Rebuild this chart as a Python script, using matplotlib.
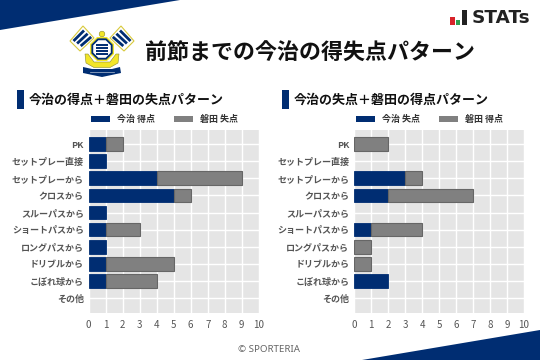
import matplotlib
matplotlib.use('Agg')
import numpy as np
import matplotlib.pyplot as plt
import matplotlib.patches as plp

plt.rcParams['font.family'] = ['Noto Sans CJK JP', 'DejaVu Sans']

NAVY = '#002d72'
GREY = '#808080'
TICK = '#555555'
YELLOW = '#f2e528'

categories = ['PK', 'セットプレー直接', 'セットプレーから', 'クロスから', 'スルーパスから',
              'ショートパスから', 'ロングパスから', 'ドリブルから', 'こぼれ球から', 'その他']
x_ticks = list(range(11))

left_imabari = [1, 1, 4, 5, 1, 1, 1, 1, 1, 0]
left_iwata = [1, 0, 5, 1, 0, 2, 0, 4, 3, 0]
right_imabari = [0, 0, 3, 2, 0, 1, 0, 0, 2, 0]
right_iwata = [2, 0, 1, 5, 0, 3, 1, 1, 0, 0]


def px_axes(fig, x0, y0, x1, y1):
	# pixel box (top-left origin) to figure fraction
	return fig.add_axes([x0 / 540, 1 - y1 / 360, (x1 - x0) / 540, (y1 - y0) / 360])


def draw_panel(fig, x0, a, b):
	ax = px_axes(fig, x0, 130, x0 + 170, 313)
	ax.set_facecolor('#e5e5e5')
	y = np.arange(len(categories))
	a = np.array(a)
	b = np.array(b)
	# zero values would leave an edge line, so only draw the real ones
	ax.barh(y[a > 0], a[a > 0], height=0.8, color=NAVY, edgecolor=NAVY, linewidth=0.6, zorder=3)
	ax.barh(y[b > 0], b[b > 0], left=a[b > 0], height=0.8, color=GREY, edgecolor='#666666', linewidth=0.8, zorder=3)
	ax.set_xlim(0, 10)
	ax.set_ylim(9.87, -0.82)
	ax.set_xticks(x_ticks)
	ax.set_yticks(y)
	ax.set_yticklabels(categories, fontsize=6.5, color=TICK, fontweight='bold')
	ax.tick_params(axis='x', length=0, labelsize=7, labelcolor=TICK, pad=5)
	ax.tick_params(axis='y', length=0, pad=3.5)
	ax.grid(color='white', linewidth=1, zorder=1)
	ax.set_axisbelow(True)
	for s in ax.spines.values():
		s.set_visible(False)
	return ax


def legend_item(ov, x, color, label):
	ov.add_patch(plp.Rectangle((x, 115.5), 19, 6, facecolor=color, edgecolor='none'))
	ov.text(x + 26, 119.5, label, fontsize=6.5, fontweight='bold', color='#333333', va='center', ha='left')


def draw_flag(ov, mirror):
	# flag drawn for the left side, mirrored around the crest centre
	fx = (lambda v: 204 - v) if mirror else (lambda v: v)
	ov.add_patch(plp.Polygon([(fx(70), 41), (fx(83), 26), (fx(94), 38), (fx(80), 51)],
	                         facecolor='white', edgecolor='#d8c93c', lw=0.8))
	for i in range(3):
		ov.plot([fx(73.5 + i * 3.6), fx(84 + i * 3.6)], [41 + i * 2.5, 30.5 + i * 3.2],
		        color=NAVY, lw=2.0, solid_capstyle='butt')


fig = plt.figure(figsize=(5.4, 3.6), dpi=100)

# overlay in pixel coordinates for the page decoration
ov = fig.add_axes([0, 0, 1, 1], zorder=5)
ov.set_xlim(0, 540)
ov.set_ylim(360, 0)
ov.axis('off')
ov.patch.set_alpha(0)

ov.add_patch(plp.Polygon([(0, 0), (180, 0), (0, 30)], facecolor=NAVY, edgecolor='none'))
ov.add_patch(plp.Polygon([(540, 330), (540, 360), (362, 360)], facecolor=NAVY, edgecolor='none'))

# crest
draw_flag(ov, False)
draw_flag(ov, True)
ov.add_patch(plp.Circle((102, 34), 2.8, facecolor=YELLOW, edgecolor='#8a8a30', lw=0.4))
ov.add_patch(plp.Polygon([(85, 54), (88, 54), (94, 62), (110, 62), (116, 54), (119, 54), (118, 63), (110, 67.5), (94, 67.5), (86, 63)],
                         facecolor=YELLOW, edgecolor='#8a8a30', lw=0.4))
ov.add_patch(plp.Polygon([(83, 67), (92, 69), (112, 69), (120, 67), (121, 73), (102, 77), (83, 73)],
                         facecolor=NAVY, edgecolor='none'))
ov.plot([90, 114], [72, 72], color='white', lw=0.5, alpha=0.7)
ov.add_patch(plp.RegularPolygon((102, 49), 8, radius=13, facecolor=YELLOW, edgecolor='none', orientation=np.pi / 8))
ov.add_patch(plp.RegularPolygon((102, 49), 8, radius=11.5, facecolor=NAVY, edgecolor='none', orientation=np.pi / 8))
ov.add_patch(plp.RegularPolygon((102, 49), 8, radius=9.5, facecolor='white', edgecolor='none', orientation=np.pi / 8))
for i in range(4):
	ov.plot([96, 108], [44.5 + i * 3, 44.5 + i * 3], color=NAVY, lw=1.4, solid_capstyle='butt')

# stats logo
ov.add_patch(plp.Rectangle((450, 17), 5, 8, facecolor='#d8232a', edgecolor='none'))
ov.add_patch(plp.Rectangle((456, 20), 4, 5, facecolor='#2e9e4f', edgecolor='none'))
ov.add_patch(plp.Rectangle((462, 10), 5, 15, facecolor='#222222', edgecolor='none'))
ov.text(472, 18, 'STATs', fontsize=13.2, fontweight='bold', color='#222222', family='DejaVu Sans', va='center', ha='left')

ov.text(145, 53, '前節までの今治の得失点パターン', fontsize=15.8, fontweight='bold', color='#111111', va='center', ha='left')

ov.add_patch(plp.Rectangle((17, 90), 7, 19, facecolor=NAVY, edgecolor='none'))
ov.text(29, 99.5, '今治の得点＋磐田の失点パターン', fontsize=9.35, fontweight='bold', color='#111111', va='center', ha='left')
ov.add_patch(plp.Rectangle((282, 90), 7, 19, facecolor=NAVY, edgecolor='none'))
ov.text(294, 99.5, '今治の失点＋磐田の得点パターン', fontsize=9.35, fontweight='bold', color='#111111', va='center', ha='left')

legend_item(ov, 91, NAVY, '今治 得点')
legend_item(ov, 174, GREY, '磐田 失点')
legend_item(ov, 356, NAVY, '今治 失点')
legend_item(ov, 439, GREY, '磐田 得点')

ov.text(269, 350, '© SPORTERIA', fontsize=7, color='#666666', va='center', ha='center', family='Noto Sans')

draw_panel(fig, 88.7, left_imabari, left_iwata)
draw_panel(fig, 354, right_imabari, right_iwata)

fig.savefig('out.png', dpi=100)
